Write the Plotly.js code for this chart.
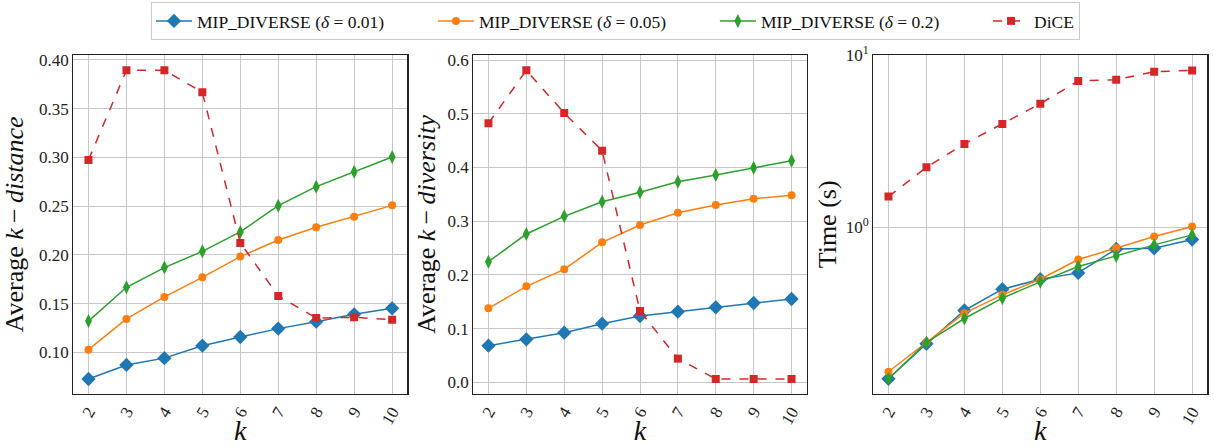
<!DOCTYPE html>
<html>
<head>
<meta charset="utf-8">
<script src="https://cdn.plot.ly/plotly-3.0.1.min.js"></script>
<style>html,body{margin:0;padding:0;background:#fff;}#chart{width:1214px;height:446px;}</style>
</head>
<body>
<div id="chart"></div>
<script>
const ks = [2, 3, 4, 5, 6, 7, 8, 9, 10];
const seriesNames = ['MIP_DIVERSE (<i>δ</i> = 0.01)', 'MIP_DIVERSE (<i>δ</i> = 0.05)', 'MIP_DIVERSE (<i>δ</i> = 0.2)', 'DiCE'];

// Average k-distance
const distMip001 = [0.0726, 0.087, 0.094, 0.1068, 0.1157, 0.1243, 0.1314, 0.139, 0.1451];
const distMip005 = [0.1027, 0.1342, 0.1568, 0.1769, 0.1982, 0.2153, 0.2283, 0.2392, 0.2508];
const distMip02  = [0.132, 0.1667, 0.1869, 0.2036, 0.2235, 0.2505, 0.270, 0.2854, 0.3004];
const distDice   = [0.2974, 0.3894, 0.3894, 0.3668, 0.2122, 0.1578, 0.1352, 0.1359, 0.1335];

// Average k-diversity
const divMip001 = [0.0683, 0.080, 0.0925, 0.1092, 0.1235, 0.1315, 0.1396, 0.1477, 0.1551];
const divMip005 = [0.1377, 0.1787, 0.2103, 0.2606, 0.2929, 0.3158, 0.3301, 0.3419, 0.3481];
const divMip02  = [0.2246, 0.2761, 0.309, 0.3363, 0.3537, 0.3735, 0.3859, 0.3996, 0.4126];
const divDice   = [0.4821, 0.5808, 0.5013, 0.4312, 0.1328, 0.0441, 0.0062, 0.0062, 0.0062];

// Time (s)
const timeMip001 = [0.1323, 0.211, 0.3292, 0.4373, 0.4995, 0.5437, 0.7489, 0.7556, 0.8486];
const timeMip005 = [0.1453, 0.2158, 0.3177, 0.4056, 0.4995, 0.6498, 0.7591, 0.8829, 1.01];
const timeMip02  = [0.1323, 0.2148, 0.2958, 0.388, 0.4826, 0.5918, 0.6823, 0.7901, 0.9029];
const timeDice   = [1.505, 2.226, 3.039, 3.968, 5.203, 7.04, 7.166, 7.97, 8.11];

const xTickVals = ks;
const logTickVals = [1, 10];
const logTickText = ['10<sup>0</sup>', '10<sup>1</sup>'];

const colors = ['#1f77b4', '#ff7f0e', '#2ca02c', '#d62728'];
const symbols = ['diamond', 'circle', 'diamond-tall', 'square'];
const sizes = [11, 8, 10, 8];
const dashes = ['solid', 'solid', 'solid', 'dash'];

const panels = [
  [distMip001, distMip005, distMip02, distDice],
  [divMip001, divMip005, divMip02, divDice],
  [timeMip001, timeMip005, timeMip02, timeDice]
];

const PAD = '\u00a0'.repeat(10);
const traces = [];
panels.forEach((pan, pi) => {
  pan.forEach((ys, si) => {
    traces.push({
      x: ks, y: ys,
      type: 'scatter', mode: 'lines+markers',
      name: seriesNames[si] + (si < 3 ? PAD : ''),
      legendgroup: 's' + si,
      showlegend: pi === 0,
      xaxis: pi === 0 ? 'x' : 'x' + (pi + 1),
      yaxis: pi === 0 ? 'y' : 'y' + (pi + 1),
      line: {color: colors[si], width: 1.5, dash: dashes[si]},
      marker: {color: colors[si], symbol: symbols[si], size: sizes[si], line: {width: 0}}
    });
  });
});

const FONT = 'Liberation Serif, DejaVu Serif, serif';
const W = 1214, H = 446;
const px = v => v / W;
const py = v => 1 - v / H;

const frame = {showline: true, mirror: true, linecolor: '#222', linewidth: 1.2,
  showgrid: true, gridcolor: '#c8c8c8', gridwidth: 1, zeroline: false, ticks: '',
  automargin: false, tickfont: {family: FONT, size: 17, color: '#222'}};

function xax(d0, d1, anchor) {
  return Object.assign({}, frame, {
    domain: [px(d0), px(d1)], anchor: anchor, range: [1.6, 10.4],
    tickvals: xTickVals, tickangle: -60,
    title: {text: '<i>k</i>', font: {family: FONT, size: 28, color: '#111'}, standoff: 8}
  });
}
function yax(anchor, extra) {
  return Object.assign({}, frame, {domain: [py(394), py(54.7)], anchor: anchor}, extra);
}

const layout = {
  width: W, height: H,
  margin: {l: 0, r: 0, t: 0, b: 0},
  paper_bgcolor: '#fff', plot_bgcolor: '#fff',
  font: {family: FONT, color: '#111'},
  showlegend: true,
  legend: {
    orientation: 'h', x: px(151), xanchor: 'left', y: py(2), yanchor: 'top',
    bgcolor: '#fff', bordercolor: '#cccccc', borderwidth: 1,
    font: {family: FONT, size: 17.5, color: '#111'},
    itemwidth: 36
  },
  shapes: [{type: 'rect', xref: 'paper', yref: 'paper', x0: px(155), x1: px(1078), y0: py(38), y1: py(6),
    fillcolor: 'rgba(120,120,120,0.45)', line: {width: 0}, layer: 'above'}],
  xaxis: xax(73.3, 407.3, 'y'),
  yaxis: yax('x', {range: [0.0572, 0.4054], tickformat: '.2f', dtick: 0.05, tick0: 0,
    title: {text: 'Average <i>k</i>\u2009−\u2009<i>distance</i>', font: {family: FONT, size: 26, color: '#111'}, standoff: 7}}),
  xaxis2: xax(473.3, 806.7, 'y2'),
  yaxis2: yax('x2', {range: [-0.0217, 0.6099], tickformat: '.1f', dtick: 0.1, tick0: 0,
    title: {text: 'Average <i>k</i>\u2009−\u2009<i>diversity</i>', font: {family: FONT, size: 26, color: '#111'}, standoff: 4}}),
  xaxis3: xax(873.3, 1207.3, 'y3'),
  yaxis3: yax('x3', {type: 'log', range: [Math.log10(0.108), 1.0], tickvals: logTickVals, ticktext: logTickText,
    title: {text: 'Time (s)', font: {family: FONT, size: 26, color: '#111'}, standoff: 1}})
};

Plotly.newPlot('chart', traces, layout, {staticPlot: true, displayModeBar: false});
</script>
</body>
</html>
